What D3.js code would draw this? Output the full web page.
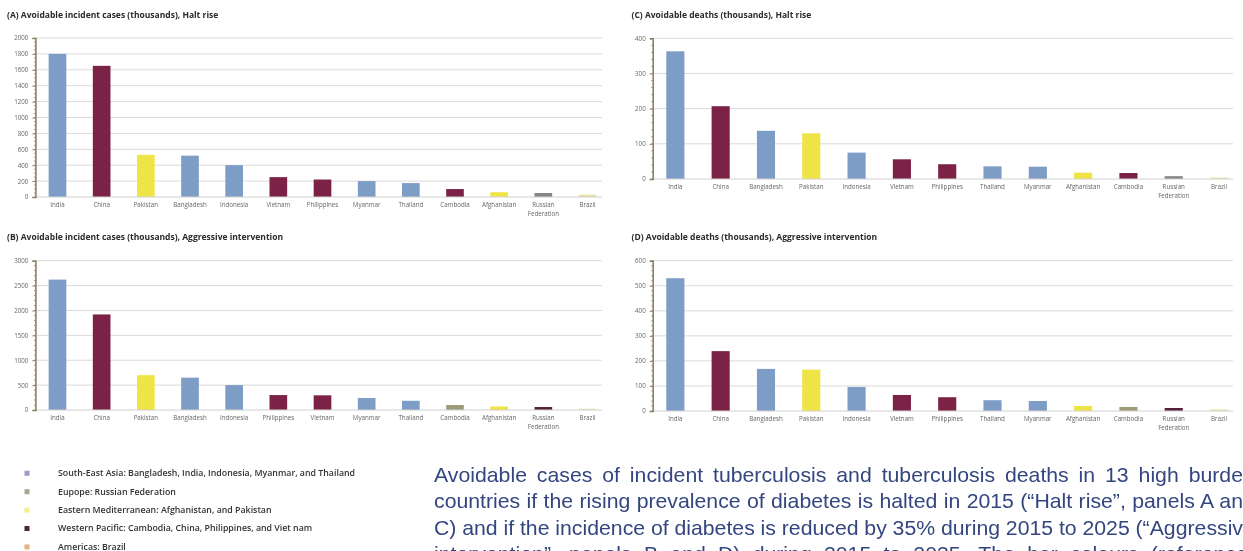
<!DOCTYPE html>
<html>
<head>
<meta charset="utf-8">
<script src="https://cdn.jsdelivr.net/npm/d3@7"></script>
<style>
  html, body { margin: 0; padding: 0; background: #fff; overflow: hidden; }
  svg { display: block; }
</style>
</head>
<body>
<svg id="fig" width="1243" height="551"></svg>
<script>
// ---- data (thousands) ----
const countriesA = ["India","China","Pakistan","Bangladesh","Indonesia","Vietnam","Philippines","Myanmar","Thailand","Cambodia","Afghanistan","Russian Federation","Brazil"];
const valuesA    = [1800, 1650, 530, 520, 400, 250, 220, 200, 175, 100, 60, 50, 30];

const countriesB = ["India","China","Pakistan","Bangladesh","Indonesia","Philippines","Vietnam","Myanmar","Thailand","Cambodia","Afghanistan","Russian Federation","Brazil"];
const valuesB    = [2620, 1920, 700, 650, 500, 300, 295, 240, 185, 100, 70, 60, 25];

const countriesC = ["India","China","Bangladesh","Pakistan","Indonesia","Vietnam","Philippines","Thailand","Myanmar","Afghanistan","Cambodia","Russian Federation","Brazil"];
const valuesC    = [363, 207, 137, 130, 75, 56, 42, 36, 35, 18, 17, 8, 4];

const countriesD = ["India","China","Bangladesh","Pakistan","Indonesia","Vietnam","Philippines","Thailand","Myanmar","Afghanistan","Cambodia","Russian Federation","Brazil"];
const valuesD    = [530, 239, 168, 165, 96, 64, 55, 43, 40, 20, 16, 12, 6];

const ticksA = [0,200,400,600,800,1000,1200,1400,1600,1800,2000];
const ticksB = [0,500,1000,1500,2000,2500,3000];
const ticksC = [0,100,200,300,400];
const ticksD = [0,100,200,300,400,500,600];

const titles = {
  A: "(A) Avoidable incident cases (thousands), Halt rise",
  B: "(B) Avoidable incident cases (thousands), Aggressive intervention",
  C: "(C) Avoidable deaths (thousands), Halt rise",
  D: "(D) Avoidable deaths (thousands), Aggressive intervention"
};

const legendItems = [
  "South-East Asia: Bangladesh, India, Indonesia, Myanmar, and Thailand",
  "Eupope: Russian Federation",
  "Eastern Mediterranean: Afghanistan, and Pakistan",
  "Western Pacific: Cambodia, China, Philippines, and Viet nam",
  "Americas: Brazil"
];

const captionLines = [
  "Avoidable cases of incident tuberculosis and tuberculosis deaths in 13 high burden",
  "countries if the rising prevalence of diabetes is halted in 2015 (\u201cHalt rise\u201d, panels A and",
  "C) and if the incidence of diabetes is reduced by 35% during 2015 to 2025 (\u201cAggressive",
  "intervention\u201d, panels B and D) during 2015 to 2035. The bar colours (reference)"
];
// text that reaches the right edge of the page on each justified line
const captionEdgePrefix = [
  "Avoidable cases of incident tuberculosis and tuberculosis deaths in 13 high burde",
  "countries if the rising prevalence of diabetes is halted in 2015 (\u201cHalt rise\u201d, panels A an",
  "C) and if the incidence of diabetes is reduced by 35% during 2015 to 2025 (\u201cAggressiv",
  null
];

// ---- styling ----
const BLUE = "#7d9cc6", MAROON = "#7b2447", YELLOW = "#efe445", GREY = "#858585",
      OLIVE = "#9d9c78", DARKMAROON = "#57203a", PALE = "#e9e1a8";
const baseColour = {
  "India": BLUE, "Bangladesh": BLUE, "Indonesia": BLUE, "Myanmar": BLUE, "Thailand": BLUE,
  "China": MAROON, "Vietnam": MAROON, "Philippines": MAROON, "Cambodia": MAROON,
  "Pakistan": YELLOW, "Afghanistan": YELLOW,
  "Russian Federation": GREY, "Brazil": PALE
};
const colourHalt = Object.assign({}, baseColour);
const colourAggr = Object.assign({}, baseColour, { "Cambodia": OLIVE, "Russian Federation": DARKMAROON });
const legendColours = ["#9c9cc8", "#a3a890", "#f2ef8c", "#4a2a2a", "#e5b47c"];

const panels = [
  { key: "A", cats: countriesA, vals: valuesA, ticks: ticksA, minor: 50,  colours: colourHalt,
    x0: 35.4, x1: 609.6, gridEnd: 602, yTop: 38, yBase: 197, titleX: 7, titleY: 18 },
  { key: "B", cats: countriesB, vals: valuesB, ticks: ticksB, minor: 100, colours: colourAggr,
    x0: 35.4, x1: 609.6, gridEnd: 602, yTop: 260.7, yBase: 410, titleX: 7, titleY: 240 },
  { key: "C", cats: countriesC, vals: valuesC, ticks: ticksC, minor: 20,  colours: colourHalt,
    x0: 652.7, x1: 1241.7, gridEnd: 1233, yTop: 38.3, yBase: 179, titleX: 631.5, titleY: 18 },
  { key: "D", cats: countriesD, vals: valuesD, ticks: ticksD, minor: 20,  colours: colourAggr,
    x0: 652.7, x1: 1241.7, gridEnd: 1233, yTop: 260.7, yBase: 411, titleX: 631.5, titleY: 240 }
];

const svg = d3.select("#fig");
const defs = svg.append("defs");
defs.append("filter").attr("id", "soft")
  .attr("x", "-2%").attr("y", "-2%").attr("width", "104%").attr("height", "104%")
  .append("feGaussianBlur").attr("stdDeviation", 0.55);

const charts = svg.append("g").attr("filter", "url(#soft)");
const labelFont = "'Open Sans', 'DejaVu Sans', sans-serif";

panels.forEach(p => {
  const g = charts.append("g");
  const yMax = p.ticks[p.ticks.length - 1];
  const x = d3.scaleBand().domain(p.cats).range([p.x0, p.x1]).paddingInner(0.6).paddingOuter(0.3);
  const y = d3.scaleLinear().domain([0, yMax]).range([p.yBase, p.yTop]);

  // title
  g.append("text").attr("x", p.titleX).attr("y", p.titleY)
    .attr("font-family", labelFont).attr("font-size", 8.5).attr("font-weight", 700)
    .attr("fill", "#2a2a2a").text(titles[p.key]);

  // gridlines
  g.append("g").selectAll("line").data(p.ticks.filter(t => t > 0)).join("line")
    .attr("x1", p.x0).attr("x2", p.gridEnd)
    .attr("y1", d => y(d)).attr("y2", d => y(d))
    .attr("stroke", "#dadada").attr("stroke-width", 1);

  // bars
  g.append("g").selectAll("rect").data(p.cats.map((c, i) => ({ c, v: p.vals[i] }))).join("rect")
    .attr("x", d => x(d.c)).attr("width", x.bandwidth())
    .attr("y", d => y(d.v)).attr("height", d => p.yBase - y(d.v))
    .attr("fill", d => p.colours[d.c]);

  // baseline
  g.append("line").attr("x1", p.x0).attr("x2", p.gridEnd)
    .attr("y1", p.yBase).attr("y2", p.yBase).attr("stroke", "#d0d0d0");

  // minor ticks
  const minorVals = d3.range(0, yMax + 1e-9, p.minor);
  g.append("g").selectAll("line").data(minorVals).join("line")
    .attr("x1", p.x0 - 1.5).attr("x2", p.x0)
    .attr("y1", d => y(d)).attr("y2", d => y(d))
    .attr("stroke", "#8e7f66").attr("stroke-width", 0.8);

  // y axis
  const yAxis = d3.axisLeft(y).tickValues(p.ticks).tickSize(3).tickPadding(4).tickFormat(d3.format("d"));
  const ya = g.append("g").attr("transform", `translate(${p.x0},0)`).call(yAxis);
  ya.select(".domain").attr("stroke", "#8e7f66").attr("stroke-width", 1.6);
  ya.selectAll(".tick line").attr("stroke", "#8e7f66");
  ya.selectAll(".tick text").attr("font-family", labelFont).attr("font-size", 6.2).attr("fill", "#666");

  // x axis labels
  const xAxis = d3.axisBottom(x).tickSize(0).tickPadding(6);
  const xa = g.append("g").attr("transform", `translate(0,${p.yBase})`).call(xAxis);
  xa.select(".domain").remove();
  xa.selectAll(".tick text").attr("font-family", labelFont).attr("font-size", 6.2).attr("fill", "#666")
    .each(function(d) {
      const words = d.split(" ");
      if (words.length > 1) {
        const t = d3.select(this).text(null);
        words.forEach((w, i) => t.append("tspan").attr("x", 0).attr("dy", i === 0 ? "0.71em" : "1.45em").text(w));
      }
    });
});

// legend
const lg = charts.append("g");
legendItems.forEach((txt, i) => {
  const yy = 473.3 + i * 18.4;
  lg.append("rect").attr("x", 24.5).attr("y", yy - 2.5).attr("width", 5).attr("height", 5)
    .attr("fill", legendColours[i]);
  lg.append("text").attr("x", 58).attr("y", yy + 2.9)
    .attr("font-family", labelFont).attr("font-size", 8.8).attr("font-weight", 600)
    .attr("fill", "#333").text(txt);
});

// caption: justified lines, slightly wide set type
const capX = 434, capScale = 1.085, edge = 1243;
const cap = svg.append("g").attr("transform", `translate(${capX},0) scale(${capScale},1)`);
const lineNodes = captionLines.map((line, i) =>
  cap.append("text").attr("x", 0).attr("y", 482 + i * 26.5)
    .attr("font-family", "'Liberation Sans', Arial, sans-serif").attr("font-size", 19.6)
    .attr("fill", "#33467f").text(line));

let fullWidth = null;
lineNodes.forEach((t, i) => {
  const node = t.node();
  const pre = captionEdgePrefix[i];
  if (pre) {
    const nat = node.getSubStringLength(0, pre.length);
    const spaces = (pre.match(/ /g) || []).length;
    const ws = ((edge - capX) / capScale - nat) / spaces;
    t.style("word-spacing", ws + "px");
    if (fullWidth === null) fullWidth = node.getComputedTextLength();
  } else if (fullWidth !== null) {
    const nat = node.getComputedTextLength();
    const spaces = (captionLines[i].match(/ /g) || []).length;
    t.style("word-spacing", ((fullWidth - nat) / spaces) + "px");
  }
});
</script>
</body>
</html>
